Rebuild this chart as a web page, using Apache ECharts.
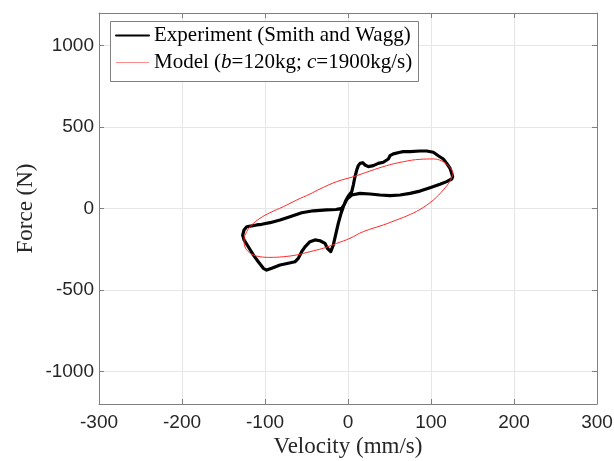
<!DOCTYPE html>
<html>
<head>
<meta charset="utf-8">
<script src="https://cdn.jsdelivr.net/npm/echarts@6/dist/echarts.min.js"></script>
<style>
  html, body { margin: 0; padding: 0; background: #fff; }
  #chart { width: 614px; height: 461px; }
</style>
</head>
<body>
<div id="chart"></div>
<script>
// Measured force-velocity loop (mm/s, N), traced once around
const expVelocity = [
  126.1, 124.9, 122.9, 118.9, 114.8, 108.8, 102.8, 94.8, 86.7, 74.7,
  66.6, 62.7, 60.6, 54.6, 50.6, 48.6, 46.6, 42.5, 36.5, 30.5,
  24.5, 20.5, 17.7, 14.5, 12.4, 10.5, 8.4, 6.4, 4.5, 0.4,
  -3.0, -5.7, -8.4, -11.7, -14.5, -17.7, -20.8, -22.5, -24.9, -27.7,
  -33.7, -39.8, -45.8, -51.8, -55.8, -59.9, -63.9, -71.9, -81.9, -91.9,
  -98.0, -102.0, -108.1, -114.1, -120.1, -125.3, -126.9, -125.3, -122.0, -116.0,
  -110.0, -104.0, -94.0, -81.9, -69.9, -55.8, -41.8, -25.7, -14.5, -7.6,
  -4.8, -1.2, 4.5, 6.4, 14.5, 26.5, 38.6, 50.6, 62.7, 74.7,
  86.7, 98.8, 110.8, 118.9, 124.9
];
const expForce = [
  195, 216, 247, 277, 304, 324, 345, 353, 353, 349,
  349, 345, 339, 335, 324, 304, 292, 284, 277, 263,
  257, 267, 281, 277, 263, 236, 195, 144, 103, 77,
  46, 9, -30, -91, -152, -224, -265, -271, -244, -214,
  -198, -193, -204, -235, -265, -306, -327, -336, -347, -367,
  -378, -367, -327, -285, -235, -193, -163, -132, -112, -107,
  -101, -97, -87, -71, -50, -26, -14, -9, -6, 1,
  22, 58, 83, 95, 93, 89, 83, 79, 83, 93,
  107, 128, 149, 165, 181
];

// Model loop, b = 120 kg, c = 1900 kg/s
const modelVelocity = [
  126.5, 124.9, 120.8, 112.9, 102.8, 86.7, 66.6, 46.6, 26.5, 6.4,
  -13.6, -33.7, -45.8, -61.8, -78.0, -94.0, -106.0, -116.0, -122.0, -125.3,
  -124.1, -120.1, -114.1, -106.0, -94.0, -78.0, -61.8, -45.8, -29.8, -13.6,
  2.4, 18.4, 42.5, 56.6, 70.7, 86.7, 102.8, 114.8, 122.5
];
const modelForce = [
  212, 239, 263, 292, 304, 302, 287, 263, 230, 195,
  165, 120, 89, 52, 11, -26, -60, -101, -142, -193,
  -235, -265, -285, -296, -300, -296, -285, -265, -244, -214,
  -183, -142, -101, -74, -46, -6, 52, 114, 165
];

const xTicks = [-300, -200, -100, 0, 100, 200, 300];
const yTicks = [-1000, -500, 0, 500, 1000];

const expName = 'Experiment (Smith and Wagg)';
const modelName = 'Model';

function closedLoop(xs, ys) {
  const pts = xs.map((x, i) => [x, ys[i]]);
  pts.push(pts[0]);
  return pts;
}

const serif = 'Liberation Serif';
const sans = 'Liberation Sans';
const frameColor = '#808080';
const textColor = '#262626';
const gridColor = '#e6e6e6';
const plain = v => String(v);

const chart = echarts.init(document.getElementById('chart'), null, { renderer: 'canvas' });

const baseX = {
  type: 'value', min: xTicks[0], max: xTicks[xTicks.length - 1], interval: 100,
  axisLine: { show: true, onZero: false, lineStyle: { color: frameColor, width: 1 } },
  axisTick: { show: true, inside: true, length: 5, lineStyle: { color: frameColor } }
};
const baseY = {
  type: 'value', min: -1200, max: 1200,
  axisLine: { show: true, onZero: false, lineStyle: { color: frameColor, width: 1 } },
  axisTick: { show: true, inside: true, length: 5, customValues: yTicks, lineStyle: { color: frameColor } }
};

chart.setOption({
  animation: false,
  backgroundColor: '#ffffff',
  grid: { left: 99, right: 17, top: 13, bottom: 57, containLabel: false, outerBoundsMode: 'none' },
  xAxis: [
    Object.assign({}, baseX, {
      position: 'bottom',
      name: 'Velocity (mm/s)', nameLocation: 'middle', nameGap: 31, nameMoveOverlap: false,
      nameTextStyle: { fontFamily: serif, fontSize: 23, color: textColor },
      axisLabel: { fontFamily: sans, fontSize: 19, color: textColor, margin: 9, formatter: plain },
      splitLine: { show: true, lineStyle: { color: gridColor, width: 1 } }
    }),
    Object.assign({}, baseX, {
      position: 'top',
      axisLabel: { show: false }, splitLine: { show: false }
    })
  ],
  yAxis: [
    Object.assign({}, baseY, {
      position: 'left',
      name: 'Force (N)', nameLocation: 'middle', nameGap: 62, nameMoveOverlap: false,
      nameTextStyle: { fontFamily: serif, fontSize: 23, color: textColor },
      axisLabel: { fontFamily: sans, fontSize: 19, color: textColor, margin: 5, customValues: yTicks, formatter: plain },
      splitLine: { show: true, lineStyle: { color: gridColor, width: 1 } }
    }),
    Object.assign({}, baseY, {
      position: 'right',
      axisLabel: { show: false }, splitLine: { show: false }
    })
  ],
  graphic: [{
    type: 'rect', z: 3,
    shape: { x: 110.5, y: 21.5, width: 308, height: 60 },
    style: { fill: '#ffffff', stroke: frameColor, lineWidth: 1 }
  }],
  legend: {
    left: 110, top: 22, orient: 'vertical',
    padding: [3, 8, 8, 5], itemGap: 6,
    itemWidth: 33, itemHeight: 14,
    itemStyle: { opacity: 0 },
    data: [
      { name: expName },
      { name: modelName, lineStyle: { color: '#ff8c8c', width: 1 } }
    ],
    textStyle: {
      fontFamily: serif, fontSize: 21, color: '#000',
      rich: {
        n: { fontFamily: serif, fontSize: 21, color: '#000' },
        i: { fontFamily: serif, fontSize: 21, color: '#000', fontStyle: 'italic' }
      }
    },
    formatter: function (name) {
      if (name === modelName) {
        return '{n|Model (}{i|b}{n|=120kg; }{i|c}{n|=1900kg/s)}';
      }
      return '{n|' + name + '}';
    }
  },
  series: [
    {
      name: expName, type: 'line', xAxisIndex: 0, yAxisIndex: 0,
      data: closedLoop(expVelocity, expForce),
      symbol: 'none', smooth: false, z: 2,
      lineStyle: { color: '#000000', width: 3.2, join: 'round', cap: 'round' },
      itemStyle: { color: '#000000' }
    },
    {
      name: modelName, type: 'line', xAxisIndex: 0, yAxisIndex: 0,
      data: closedLoop(modelVelocity, modelForce),
      symbol: 'none', smooth: 0.4, z: 3,
      lineStyle: { color: '#ff2a2a', width: 1 },
      itemStyle: { color: '#ff2a2a' }
    }
  ]
});
</script>
</body>
</html>
